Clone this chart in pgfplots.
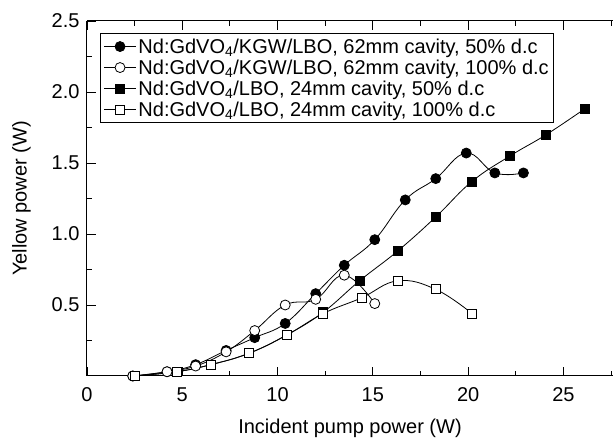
\documentclass[border=0pt]{standalone}
\usepackage{pgfplots}
\pgfplotsset{compat=1.18}
\usepackage{fontspec}
\setmainfont{Liberation Sans}

\begin{document}
\begin{tikzpicture}
\begin{axis}[
    name=ax,
    scale only axis,
    width=526pt, height=355pt,
    xmin=0, xmax=27.6,
    ymin=0, ymax=2.5,
    axis x line=box,
    axis y line=left,
    x axis line style={-},
    y axis line style={-},
    axis line style={line width=1pt},
    tick align=inside,
    tick style={black, line width=0.9pt},
    major tick length=9pt,
    minor tick length=5pt,
    xtick={0,5,...,25},
    minor xtick={2.5,7.5,...,27.5},
    ytick={0.5,1,...,2.5},
    minor ytick={0.25,0.75,...,2.25},
    /pgf/number format/assume math mode=true,
    yticklabel style={xshift=-4pt, /pgf/number format/.cd, fixed, fixed zerofill, precision=1},
    xticklabel style={yshift=-8pt},
    tick label style={font=\fontsize{20}{22}\selectfont},
    label style={font=\fontsize{20}{22}\selectfont},
    xlabel={Incident pump power (W)},
    ylabel={Yellow power (W)},
    xlabel style={yshift=-10pt},
    ylabel style={yshift=14pt},
    legend cell align=left,
    legend style={at={(0.025,0.966)}, anchor=north west, draw=black, line width=1pt,
        font=\fontsize{20}{22}\selectfont, inner sep=3pt, row sep=1pt},
    legend image code/.code={\draw[mark repeat=2,mark phase=2]
        plot coordinates {(0pt,0pt) (16pt,0pt) (32pt,0pt)};},
    every axis plot/.append style={black, line width=0.8pt},
]
\addplot[smooth, tension=0.7, mark=*, mark size=5pt, mark options={fill=black}] coordinates {
    (2.4,0) (4.2,0.03) (5.7,0.08) (7.3,0.18) (8.8,0.27) (10.4,0.37) (12.0,0.58)
    (13.5,0.78) (15.1,0.96) (16.7,1.24) (18.3,1.39) (19.9,1.57) (21.4,1.43) (22.9,1.43)};
\addlegendentry{Nd:GdVO\textsubscript{4}/KGW/LBO, 62mm cavity, 50\% d.c}
\addplot[smooth, tension=0.7, mark=*, mark size=5pt, mark options={fill=white}] coordinates {
    (2.4,0) (4.2,0.03) (5.7,0.07) (7.3,0.17) (8.8,0.32) (10.4,0.50) (12.0,0.54)
    (13.5,0.71) (15.1,0.51)};
\addlegendentry{Nd:GdVO\textsubscript{4}/KGW/LBO, 62mm cavity, 100\% d.c}
\addplot[smooth, tension=0.7, mark=square*, mark size=4.5pt, mark options={fill=black}] coordinates {
    (2.5,0) (4.7,0.03) (6.5,0.08) (8.5,0.16) (10.5,0.29) (12.4,0.45) (14.3,0.67)
    (16.3,0.88) (18.3,1.12) (20.2,1.37) (22.2,1.55) (24.1,1.70) (26.1,1.88)};
\addlegendentry{Nd:GdVO\textsubscript{4}/LBO, 24mm cavity, 50\% d.c}
\addplot[smooth, tension=0.7, mark=square*, mark size=4.5pt, mark options={fill=white}] coordinates {
    (2.5,0) (4.7,0.03) (6.5,0.08) (8.5,0.16) (10.5,0.29) (12.4,0.44) (14.4,0.55)
    (16.3,0.67) (18.3,0.61) (20.2,0.44)};
\addlegendentry{Nd:GdVO\textsubscript{4}/LBO, 24mm cavity, 100\% d.c}
\end{axis}
\pgfresetboundingbox
\path[use as bounding box] (ax.south west) ++(-87pt,-62pt) rectangle ([shift={(2pt,21pt)}]ax.north east);
\end{tikzpicture}
\end{document}
